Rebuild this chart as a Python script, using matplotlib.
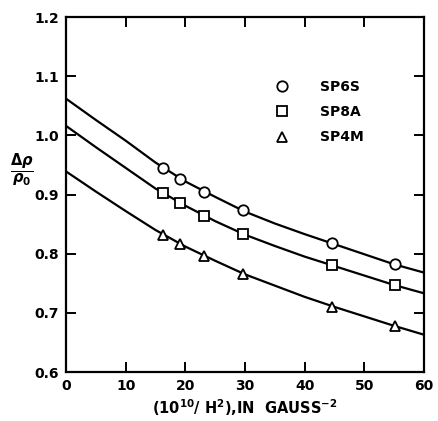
import numpy as np
import matplotlib.pyplot as plt

x_pts = [16.2, 19.1, 23.1, 29.6, 44.6, 55.1]
sp6s_pts = [0.945, 0.926, 0.904, 0.873, 0.818, 0.782]
sp8a_pts = [0.902, 0.885, 0.864, 0.834, 0.780, 0.747]
sp4m_pts = [0.831, 0.816, 0.796, 0.766, 0.710, 0.678]

# fitted curves, read every 5 units
x_curve = [0, 5, 10, 15, 20, 25, 30, 35, 40, 45, 50, 55, 60]
sp6s_curve = [1.062, 1.026, 0.991, 0.954, 0.922, 0.896, 0.871, 0.851, 0.833, 0.816, 0.799, 0.782, 0.768]
sp8a_curve = [1.016, 0.980, 0.945, 0.910, 0.881, 0.855, 0.832, 0.813, 0.795, 0.779, 0.763, 0.747, 0.733]
sp4m_curve = [0.939, 0.905, 0.872, 0.840, 0.812, 0.788, 0.765, 0.746, 0.727, 0.710, 0.694, 0.678, 0.663]

series = [
    ("SP6S", "o", sp6s_pts, sp6s_curve),
    ("SP8A", "s", sp8a_pts, sp8a_curve),
    ("SP4M", "^", sp4m_pts, sp4m_curve),
]

plt.rcParams["font.family"] = ["DejaVu Sans"]
plt.rcParams["font.weight"] = "bold"

fig = plt.figure(figsize=(4.38, 4.21), dpi=100)
ax = fig.add_axes([66 / 438, 1 - 372 / 421, 358 / 438, 355 / 421])

sizes = {"o": 7.5, "s": 6.5, "^": 7.5}
for name, mk, pts, curve in series:
    ax.plot(x_curve, curve, color="black", lw=1.6, zorder=2)
    ax.plot(x_pts, pts, linestyle="none", marker=mk, ms=sizes[mk],
            mfc="white", mec="black", mew=1.3, zorder=3, label=name)

ax.set_xlim(0, 60)
ax.set_ylim(0.6, 1.2)
ax.set_xticks(np.arange(0, 61, 10))
ax.set_yticks(np.arange(0.6, 1.21, 0.1))
ax.set_yticklabels([f"{v:.1f}" for v in np.arange(0.6, 1.21, 0.1)])
ax.tick_params(direction="in", length=7, width=1.4, top=True, right=True,
               labelsize=10, pad=5)
for s in ax.spines.values():
    s.set_linewidth(1.6)

ax.set_xlabel(r"(10$^{10}$/ H$^{2}$),IN  GAUSS$^{-2}$", fontsize=10.5,
              fontweight="bold", labelpad=3)
fig.text(22 / 438, 1 - 170 / 421, r"$\frac{\Delta\rho}{\rho_0}$",
         ha="center", va="center", fontsize=15)

ax.legend(loc="upper left", bbox_to_anchor=((282 - 10.4 - 66) / 358, 0.822),
          frameon=False, handlelength=1.5, handletextpad=2.0,
          labelspacing=0.8, borderpad=0, borderaxespad=0,
          prop={"size": 10, "weight": "bold"})

fig.savefig("out.png", dpi=100)
